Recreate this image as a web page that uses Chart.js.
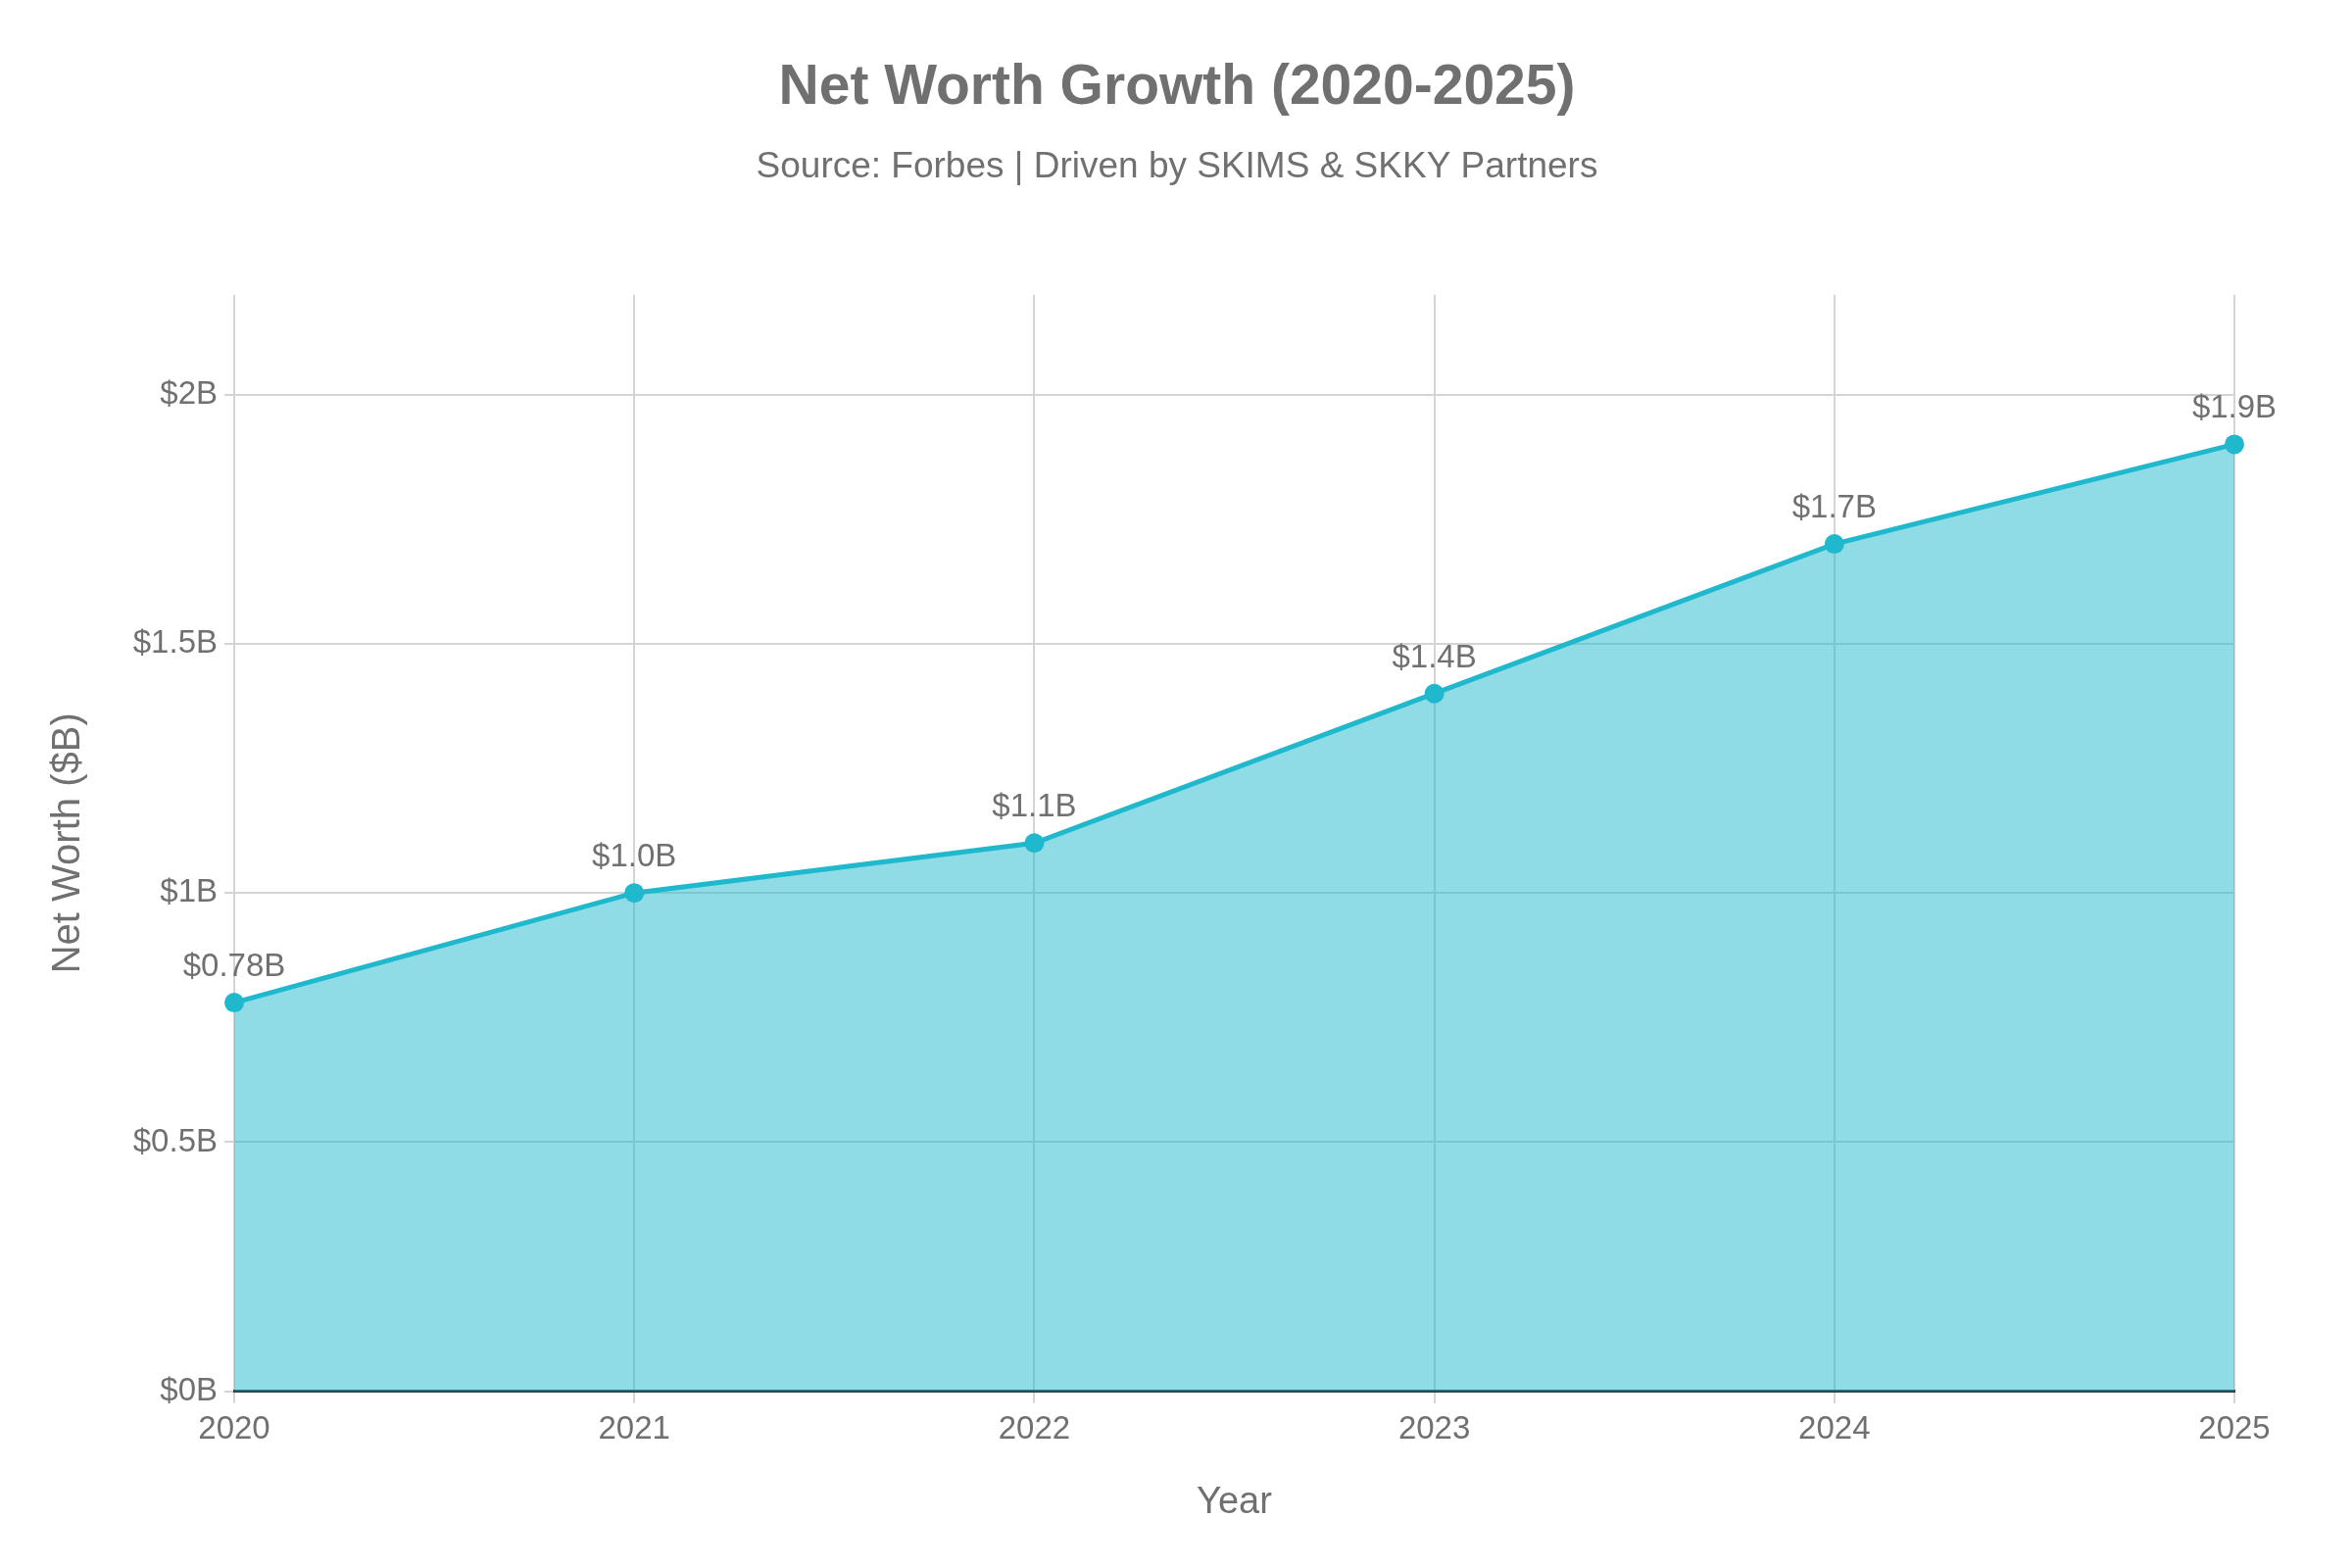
<!DOCTYPE html>
<html>
<head>
<meta charset="utf-8">
<script src="https://cdn.jsdelivr.net/npm/chart.js@4/dist/chart.umd.min.js"></script>
<style>
    html, body { margin: 0; padding: 0; background: #fff; }
    canvas { display: block; }
</style>
</head>
<body>
<canvas id="netWorthChart" width="2400" height="1600"></canvas>
<script>
// chart data
const years = ['2020', '2021', '2022', '2023', '2024', '2025'];
const netWorth = [0.78, 1.0, 1.1, 1.4, 1.7, 1.9];
const yTicks = [0, 0.5, 1, 1.5, 2];

const TEAL = '#1FB8CD';
const TEXT = '#707070';
const GRID = '#d4d4d4';
const FONT = "'Liberation Sans', Arial, sans-serif";

function moneyLabel(v) {
    return '$' + (v < 1 ? v.toFixed(2) : v.toFixed(1)) + 'B';
}

// draws the value above each point
const pointLabels = {
    id: 'pointLabels',
    afterDatasetsDraw(chart) {
        const ctx = chart.ctx;
        const meta = chart.getDatasetMeta(0);
        ctx.save();
        ctx.font = '33px ' + FONT;
        ctx.fillStyle = TEXT;
        ctx.textAlign = 'center';
        ctx.textBaseline = 'middle';
        meta.data.forEach((pt, i) => {
            ctx.fillText(moneyLabel(netWorth[i]), pt.x, pt.y - 36);
        });
        ctx.restore();
    }
};

new Chart(document.getElementById('netWorthChart'), {
    type: 'line',
    data: {
        labels: years,
        datasets: [{
            data: netWorth,
            borderColor: TEAL,
            borderWidth: 5,
            backgroundColor: 'rgba(31,184,205,0.5)',
            fill: 'origin',
            tension: 0,
            pointRadius: 10,
            pointBackgroundColor: TEAL,
            pointBorderWidth: 0
        }]
    },
    plugins: [pointLabels],
    options: {
        responsive: false,
        devicePixelRatio: 1,
        animation: false,
        // left/right kept close so the titles sit where the reference has them
        layout: { padding: { top: 0, left: 122, right: 120, bottom: 44 } },
        plugins: {
            legend: { display: false },
            tooltip: { enabled: false },
            title: {
                display: true,
                text: 'Net Worth Growth (2020-2025)',
                color: TEXT,
                font: { family: FONT, size: 57, weight: 'bold' },
                padding: { top: 56, bottom: 0 }
            },
            subtitle: {
                display: true,
                text: 'Source: Forbes | Driven by SKIMS & SKKY Partners',
                color: TEXT,
                font: { family: FONT, size: 37 },
                padding: { top: 24, bottom: 108 }
            }
        },
        scales: {
            x: {
                offset: false,
                grid: { color: GRID, lineWidth: 2, tickLength: 12, tickColor: GRID },
                border: { display: true, color: '#2f3b3e', width: 3 },
                ticks: { color: TEXT, font: { family: FONT, size: 33 }, padding: 7, maxRotation: 0 },
                title: {
                    display: true,
                    text: 'Year',
                    color: TEXT,
                    font: { family: FONT, size: 38 },
                    padding: { top: 25, bottom: 0 }
                }
            },
            y: {
                min: 0,
                max: 2.2,
                afterBuildTicks(scale) {
                    scale.ticks = yTicks.map((v) => ({ value: v }));
                },
                afterFit(scale) {
                    scale.width = 117;
                },
                grid: { color: GRID, lineWidth: 2, tickLength: 10, tickColor: GRID },
                border: { display: false },
                ticks: {
                    color: TEXT,
                    font: { family: FONT, size: 33 },
                    padding: 7,
                    callback: (v) => '$' + v + 'B'
                },
                title: {
                    display: true,
                    text: 'Net Worth ($B)',
                    color: TEXT,
                    font: { family: FONT, size: 40 },
                    padding: { top: -76, bottom: 0 }
                }
            }
        }
    }
});
</script>
</body>
</html>
